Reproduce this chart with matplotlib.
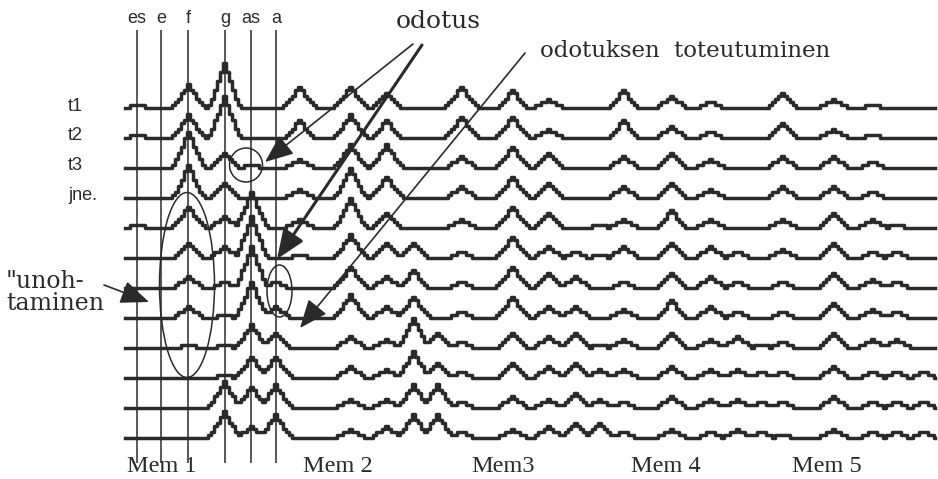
import numpy as np
import matplotlib
matplotlib.use('Agg')
import matplotlib.pyplot as plt
from matplotlib.patches import Ellipse

# sävelet (pystyviivat) ja muistit
savelet = ['es', 'e', 'f', 'g', 'as', 'a']
rivit = ['t1', 't2', 't3', 'jne.']
muistit = ['Mem 1', 'Mem 2', 'Mem3', 'Mem 4', 'Mem 5']

# aktivaatiotasot (portaina) jokaiselle ajanhetkelle t1..t12, järjestys es e f g as a
mem1 = [
    [1, 0, 8, 15, 0, 0],
    [1, 0, 8, 14, 0, 0],
    [0, 0, 12, 5, 1, 0],
    [0, 0, 11, 5, 0, 0],
    [1, 0, 7, 4, 12, 0],
    [0, 0, 5, 4, 14, 0],
    [0, 0, 4, 2, 14, 2],
    [0, 0, 4, 1, 12, 4],
    [0, 0, 1, 1, 8, 5],
    [0, 0, 0, 1, 7, 7],
    [0, 0, 0, 9, 7, 8],
    [0, 0, 0, 9, 4, 8],
]
mem2 = [
    [7, 0, 7, 5, 0, 0],
    [6, 0, 8, 6, 0, 0],
    [3, 0, 8, 8, 0, 0],
    [3, 0, 10, 7, 0, 0],
    [3, 0, 10, 5, 0, 0],
    [1, 0, 8, 5, 5, 0],
    [0, 0, 7, 4, 6, 0],
    [0, 0, 8, 4, 7, 0],
    [0, 0, 4, 3, 10, 5],
    [0, 0, 4, 3, 9, 5],
    [0, 0, 3, 3, 8, 8],
    [0, 0, 3, 4, 8, 8],
]
mem3 = [
    [7, 0, 6, 3, 0, 0],
    [7, 0, 7, 3, 0, 0],
    [4, 0, 7, 5, 0, 0],
    [4, 0, 7, 5, 0, 0],
    [3, 0, 7, 5, 0, 1],
    [2, 0, 7, 4, 2, 1],
    [2, 0, 7, 5, 4, 0],
    [2, 0, 7, 4, 4, 0],
    [2, 0, 5, 4, 5, 1],
    [2, 0, 5, 4, 5, 3],
    [2, 0, 4, 3, 5, 3],
    [2, 0, 3, 4, 5, 5],
]
mem4 = [
    [6, 0, 4, 2, 0, 0],
    [6, 0, 4, 2, 0, 0],
    [4, 0, 5, 3, 0, 0],
    [4, 0, 5, 3, 0, 0],
    [3, 0, 6, 3, 0, 0],
    [4, 0, 5, 4, 2, 0],
    [2, 0, 5, 4, 2, 0],
    [3, 0, 6, 4, 2, 0],
    [3, 0, 5, 3, 4, 1],
    [3, 0, 4, 3, 3, 2],
    [2, 0, 4, 3, 3, 2],
    [2, 0, 3, 2, 3, 2],
]
mem5 = [
    [5, 0, 3, 1, 0, 0],
    [5, 0, 3, 1, 0, 0],
    [4, 0, 4, 2, 0, 0],
    [4, 0, 4, 2, 0, 0],
    [3, 0, 5, 3, 1, 0],
    [3, 0, 5, 2, 2, 0],
    [2, 0, 5, 3, 2, 0],
    [2, 0, 5, 3, 2, 0],
    [2, 0, 5, 3, 3, 0],
    [2, 0, 4, 2, 2, 2],
    [2, 0, 4, 2, 2, 2],
    [1, 0, 3, 2, 2, 2],
]
muistidata = [mem1, mem2, mem3, mem4, mem5]

# yhden "kukkulan" muoto (suhteessa huippuun)
kukkula = [0.08, 0.22, 0.4, 0.58, 0.8, 1.0, 0.8, 0.58, 0.4, 0.22, 0.08]

# asettelu (kuvan pikseleinä)
x0 = 137
lohko = 161.5
savel_x = [0, 24, 51, 88, 114, 139]
sarake = 3
porras = 3
y0 = 108
rivivali = 30
vari = '#2a2a2a'

fig = plt.figure(figsize=(9.38, 4.79), dpi=100)
ax = fig.add_axes([0, 0, 1, 1])
ax.set_xlim(0, 938)
ax.set_ylim(479, 0)
ax.axis('off')

# pystyviivat ja sävelten nimet
for nimi, dx in zip(savelet, savel_x):
    ax.vlines(x0 + dx, 30, 463, color=vari, lw=1.1, zorder=1)
    ax.text(x0 + dx, 18, nimi, ha='center', va='center', fontsize=13,
            family='Liberation Sans', color=vari)

# käyrät
xs = np.arange(125, 937, sarake)
puoli = len(kukkula) // 2
for i in range(12):
    tasot = np.zeros(len(xs))
    for b, mem in enumerate(muistidata):
        for k, h in enumerate(mem[i]):
            if h == 0:
                continue
            keski = int(round((x0 + b * lohko + savel_x[k] - xs[0]) / sarake))
            for j, s in enumerate(kukkula):
                c = keski + j - puoli
                if 0 <= c < len(xs):
                    tasot[c] = max(tasot[c], round(h * s))
    ys = y0 + i * rivivali - porras * tasot
    ax.plot(xs, ys, drawstyle='steps-mid', color=vari, lw=2.5, zorder=2)

# rivien nimet
for i, nimi in enumerate(rivit):
    ax.text(68, y0 + i * rivivali - 2, nimi, ha='left', va='center', fontsize=13,
            family='Liberation Sans', color=vari)

# muistien nimet
for nimi, xc in zip(muistit, [162, 338, 503, 666, 827]):
    ax.text(xc, 467, nimi, ha='center', va='center', fontsize=17.5,
            family='Liberation Serif', color=vari)

# ellipsit
for (cx, cy, w, h) in [(187, 285, 55, 185), (246, 165, 33, 34), (279.5, 291, 25, 52)]:
    ax.add_patch(Ellipse((cx, cy), w, h, fill=False, ec=vari, lw=1.1, zorder=3))

# tekstit ja nuolet
ax.text(438, 21, 'odotus', ha='center', va='center', fontsize=18,
        family='DejaVu Serif', color=vari)
ax.text(540, 51, 'odotuksen  toteutuminen', ha='left', va='center', fontsize=16.5,
        family='DejaVu Serif', color=vari)
ax.text(6, 281, '"unoh-', ha='left', va='center', fontsize=17,
        family='DejaVu Serif', color=vari)
ax.text(6, 303, 'taminen', ha='left', va='center', fontsize=17,
        family='DejaVu Serif', color=vari)

nuolet = [((413, 44), (265, 162), 1.2),
          ((422, 45), (277, 259), 2.2),
          ((525, 53), (300, 328), 1.2),
          ((104, 285), (149, 302), 1.2)]
for alku, loppu, paksuus in nuolet:
    ax.annotate('', xy=loppu, xytext=alku,
                arrowprops=dict(arrowstyle='-|>,head_length=1.1,head_width=0.45',
                                mutation_scale=16, color=vari, lw=paksuus,
                                shrinkA=0, shrinkB=0), zorder=4)

fig.savefig('out.png', dpi=100)
